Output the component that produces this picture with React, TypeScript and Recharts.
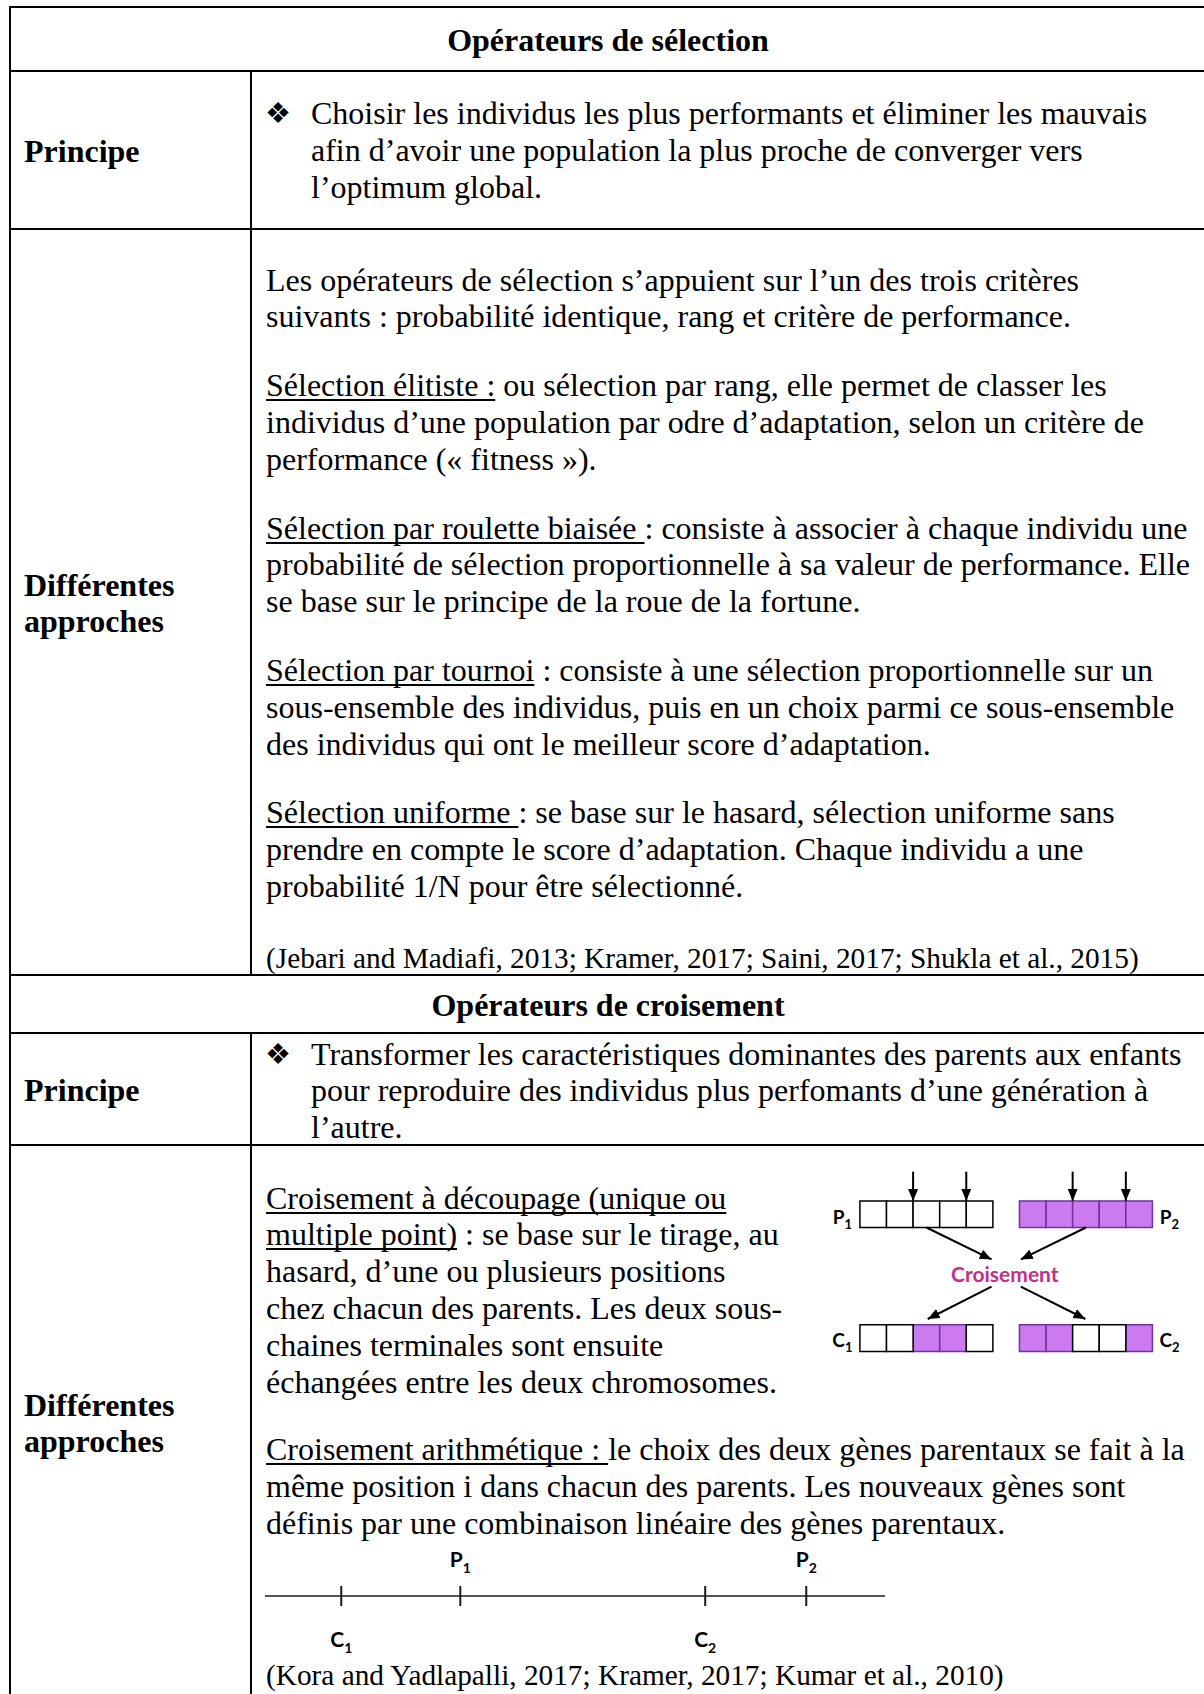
import React from 'react'
import { ComposedChart, XAxis, YAxis, ReferenceArea, ReferenceLine, Scatter } from 'recharts'

// genes of each chromosome: 0 = gene from parent 1 (white), 1 = gene from parent 2 (purple)
const parent1 = [0, 0, 0, 0, 0]
const parent2 = [1, 1, 1, 1, 1]
const child1 = [0, 0, 1, 1, 0]
const child2 = [1, 1, 0, 0, 1]
// cut positions (gene boundaries) of the multi-point crossover
const cutPoints = [2, 4]

// arithmetic crossover: positions of parents and children on the gene value line
const arithPoints = [
  { name: 'C', sub: '1', x: 12.3, y: 0, kind: 'child' },
  { name: 'P', sub: '1', x: 31.5, y: 0, kind: 'parent' },
  { name: 'C', sub: '2', x: 71, y: 0, kind: 'child' },
  { name: 'P', sub: '2', x: 87.3, y: 0, kind: 'parent' },
]

const SERIF = '"Liberation Serif", "Times New Roman", serif'
const SANS = 'Lato, "Open Sans", sans-serif'
const PURPLE = '#CC7AF0'
const PURPLE_LINE = '#7030A0'
const MAGENTA = '#C2308A'

// diagram layout, in gene units
const GENES = 5
const RIGHT_COL = 6
const CHILD_ROW = 4.66
const MID_X = 5.5

const chromosomes = [
  { name: 'P', sub: '1', genes: parent1, col: 0, row: 0, left: true },
  { name: 'P', sub: '2', genes: parent2, col: RIGHT_COL, row: 0, left: false },
  { name: 'C', sub: '1', genes: child1, col: 0, row: CHILD_ROW, left: true },
  { name: 'C', sub: '2', genes: child2, col: RIGHT_COL, row: CHILD_ROW, left: false },
]

const chromoLabels = chromosomes.map(c => ({
  name: c.name,
  sub: c.sub,
  x: c.left ? c.col - 0.66 : c.col + GENES + 0.64,
  y: c.row + 0.85,
}))

const crossArrows = [
  [{ x: 2.5, y: 1 }, { x: MID_X - 0.55, y: 2.2 }],
  [{ x: RIGHT_COL + 2.5, y: 1 }, { x: MID_X + 0.55, y: 2.2 }],
  [{ x: MID_X - 0.55, y: 3.22 }, { x: 2.55, y: CHILD_ROW - 0.22 }],
  [{ x: MID_X + 0.55, y: 3.22 }, { x: RIGHT_COL + 2.48, y: CHILD_ROW - 0.22 }],
]

const arrowShape = (p: any) => (
  <line x1={p.x1} y1={p.y1} x2={p.x2} y2={p.y2} stroke="#000" strokeWidth={2} markerEnd="url(#geneArrow)" />
)

const renderChromoLabel = (p: any) => (
  <text x={p.cx} y={p.cy} textAnchor="middle" fontFamily={SANS} fontWeight={700} fontSize={19} fill="#000">
    {p.payload.name}
    <tspan fontSize={13} dy={5}>{p.payload.sub}</tspan>
  </text>
)

const renderCrossLabel = (p: any) => (
  <text x={p.cx} y={p.cy} textAnchor="middle" fontFamily={SANS} fontWeight={700} fontSize={21} fill={MAGENTA}>
    Croisement
  </text>
)

function CrossoverDiagram() {
  const cells = chromosomes.flatMap(c =>
    c.genes.map((g, i) => ({ g, x1: c.col + i, x2: c.col + i + 1, y1: c.row, y2: c.row + 1 }))
  )
  // purple cells first so that white cell borders stay black
  const ordered = [...cells.filter(c => c.g === 1), ...cells.filter(c => c.g === 0)]
  return (
    <ComposedChart width={359} height={200} margin={{ top: 0, right: 0, bottom: 0, left: 0 }} style={{ overflow: 'visible' }}>
      <defs>
        <marker id="geneArrow" viewBox="0 0 12 10" refX="12" refY="5" markerWidth="12" markerHeight="10" markerUnits="userSpaceOnUse" orient="auto">
          <path d="M0,0 L12,5 L0,10 z" fill="#000" />
        </marker>
      </defs>
      <XAxis type="number" dataKey="x" domain={[-1.2, 12.3]} hide allowDataOverflow />
      <YAxis type="number" dataKey="y" domain={[-1.35, 6.17]} reversed hide allowDataOverflow />
      {ordered.map((c, i) => (
        <ReferenceArea
          key={`cell-${i}`}
          x1={c.x1}
          x2={c.x2}
          y1={c.y1}
          y2={c.y2}
          fill={c.g ? PURPLE : '#fff'}
          fillOpacity={1}
          stroke={c.g ? PURPLE_LINE : '#000'}
          strokeWidth={1.5}
          ifOverflow="visible"
        />
      ))}
      {chromosomes
        .filter(c => c.row === 0)
        .flatMap(c => cutPoints.map(cp => ({ x: c.col + cp })))
        .map((a, i) => (
          <ReferenceLine key={`cut-${i}`} segment={[{ x: a.x, y: -1.1 }, { x: a.x, y: 0 }]} shape={arrowShape} ifOverflow="visible" />
        ))}
      {crossArrows.map((seg, i) => (
        <ReferenceLine key={`cross-${i}`} segment={seg} shape={arrowShape} ifOverflow="visible" />
      ))}
      <Scatter data={chromoLabels} shape={renderChromoLabel} isAnimationActive={false} />
      <Scatter data={[{ x: 5.45, y: 3.05 }]} shape={renderCrossLabel} isAnimationActive={false} />
    </ComposedChart>
  )
}

const renderArithTick = (p: any) => {
  const above = p.payload.kind === 'parent'
  return (
    <g>
      <line x1={p.cx} y1={p.cy - 10} x2={p.cx} y2={p.cy + 10} stroke="#1a1a1a" strokeWidth={2} />
      <text x={p.cx} y={above ? p.cy - 29 : p.cy + 51} textAnchor="middle" fontFamily={SANS} fontWeight={700} fontSize={21} fill="#000">
        {p.payload.name}
        <tspan fontSize={14} dy={6}>{p.payload.sub}</tspan>
      </text>
    </g>
  )
}

function ArithmeticLine() {
  return (
    <ComposedChart width={620} height={140} margin={{ top: 0, right: 0, bottom: 0, left: 0 }} style={{ overflow: 'visible' }}>
      <XAxis type="number" dataKey="x" domain={[0, 100]} hide allowDataOverflow />
      <YAxis type="number" dataKey="y" domain={[-1.456, 1]} hide allowDataOverflow />
      <ReferenceLine y={0} stroke="#555" strokeWidth={2} />
      <Scatter data={arithPoints} shape={renderArithTick} isAnimationActive={false} />
    </ComposedChart>
  )
}

const LH = 36.8

const box = (top: number, left: number, extra: React.CSSProperties = {}): React.CSSProperties => ({
  position: 'absolute',
  top,
  left,
  fontSize: 32,
  lineHeight: `${LH}px`,
  whiteSpace: 'nowrap',
  ...extra,
})

const hLine = (y: number, x1 = 9, x2 = 1210) => (
  <div style={{ position: 'absolute', left: x1, top: y, width: x2 - x1, height: 2, background: '#000' }} />
)
const vLine = (x: number, y1: number, y2: number) => (
  <div style={{ position: 'absolute', left: x, top: y1, width: 2, height: y2 - y1, background: '#000' }} />
)

const U = ({ children }: { children: React.ReactNode }) => (
  <span style={{ textDecoration: 'underline', textDecorationSkipInk: 'none', textDecorationThickness: '2px', textUnderlineOffset: '3px' }}>
    {children}
  </span>
)

const Bullet = ({ top }: { top: number }) => (
  <div style={{ position: 'absolute', top, left: 265, fontFamily: '"DejaVu Sans", sans-serif', fontSize: 29, lineHeight: `${LH}px` }}>❖</div>
)

const para: React.CSSProperties = { marginBottom: 32 }
const cite: React.CSSProperties = { fontSize: 29.3 }

export default function App() {
  return (
    <div
      style={{
        position: 'absolute',
        left: 0,
        top: 0,
        width: 1204,
        height: 1694,
        overflow: 'hidden',
        background: '#fff',
        color: '#000',
        fontFamily: SERIF,
      }}
    >
      {hLine(6)}
      {hLine(70)}
      {hLine(228)}
      {hLine(974)}
      {hLine(1032)}
      {hLine(1144)}
      {vLine(9, 6, 1710)}
      {vLine(250, 70, 974)}
      {vLine(250, 1032, 1710)}

      <div style={box(21.6, 10, { width: 1196, textAlign: 'center', fontWeight: 700 })}>Opérateurs de sélection</div>

      <div style={box(132.6, 24, { fontWeight: 700 })}>Principe</div>
      <Bullet top={95} />
      <div style={box(95, 311)}>
        Choisir les individus les plus performants et éliminer les mauvais<br />
        afin d’avoir une population la plus proche de converger vers<br />
        l’optimum global.
      </div>

      <div style={box(566.6, 24, { fontWeight: 700 })}>
        Différentes<br />
        approches
      </div>
      <div style={box(261.6, 266)}>
        <div style={para}>
          Les opérateurs de sélection s’appuient sur l’un des trois critères<br />
          suivants : probabilité identique, rang et critère de performance.
        </div>
        <div style={para}>
          <U>Sélection élitiste :</U> ou sélection par rang, elle permet de classer les<br />
          individus d’une population par odre d’adaptation, selon un critère de<br />
          performance (« fitness »).
        </div>
        <div style={para}>
          <U>Sélection par roulette biaisée </U>: consiste à associer à chaque individu une<br />
          probabilité de sélection proportionnelle à sa valeur de performance. Elle<br />
          se base sur le principe de la roue de la fortune.
        </div>
        <div style={para}>
          <U>Sélection par tournoi</U> : consiste à une sélection proportionnelle sur un<br />
          sous-ensemble des individus, puis en un choix parmi ce sous-ensemble<br />
          des individus qui ont le meilleur score d’adaptation.
        </div>
        <div style={{ marginBottom: 35 }}>
          <U>Sélection uniforme </U>: se base sur le hasard, sélection uniforme sans<br />
          prendre en compte le score d’adaptation. Chaque individu a une<br />
          probabilité 1/N pour être sélectionné.
        </div>
        <div style={cite}>(Jebari and Madiafi, 2013; Kramer, 2017; Saini, 2017; Shukla et al., 2015)</div>
      </div>

      <div style={box(986.6, 10, { width: 1196, textAlign: 'center', fontWeight: 700 })}>Opérateurs de croisement</div>

      <div style={box(1071.6, 24, { fontWeight: 700 })}>Principe</div>
      <Bullet top={1035.6} />
      <div style={box(1035.6, 311)}>
        Transformer les caractéristiques dominantes des parents aux enfants<br />
        pour reproduire des individus plus perfomants d’une génération à<br />
        l’autre.
      </div>

      <div style={box(1386.6, 24, { fontWeight: 700 })}>
        Différentes<br />
        approches
      </div>
      <div style={box(1179.6, 266)}>
        <div style={{ marginBottom: 31 }}>
          <U>
            Croisement à découpage (unique ou<br />
            multiple point)
          </U>{' '}
          : se base sur le tirage, au<br />
          hasard, d’une ou plusieurs positions<br />
          chez chacun des parents. Les deux sous-<br />
          chaines terminales sont ensuite<br />
          échangées entre les deux chromosomes.
        </div>
        <div>
          <U>Croisement arithmétique : </U>le choix des deux gènes parentaux se fait à la<br />
          même position i dans chacun des parents. Les nouveaux gènes sont<br />
          définis par une combinaison linéaire des gènes parentaux.
        </div>
      </div>

      <div style={{ position: 'absolute', left: 828, top: 1165 }}>
        <CrossoverDiagram />
      </div>
      <div style={{ position: 'absolute', left: 265, top: 1539 }}>
        <ArithmeticLine />
      </div>

      <div style={box(1658, 266, { ...cite, lineHeight: '34px' })}>(Kora and Yadlapalli, 2017; Kramer, 2017; Kumar et al., 2010)</div>
    </div>
  )
}
